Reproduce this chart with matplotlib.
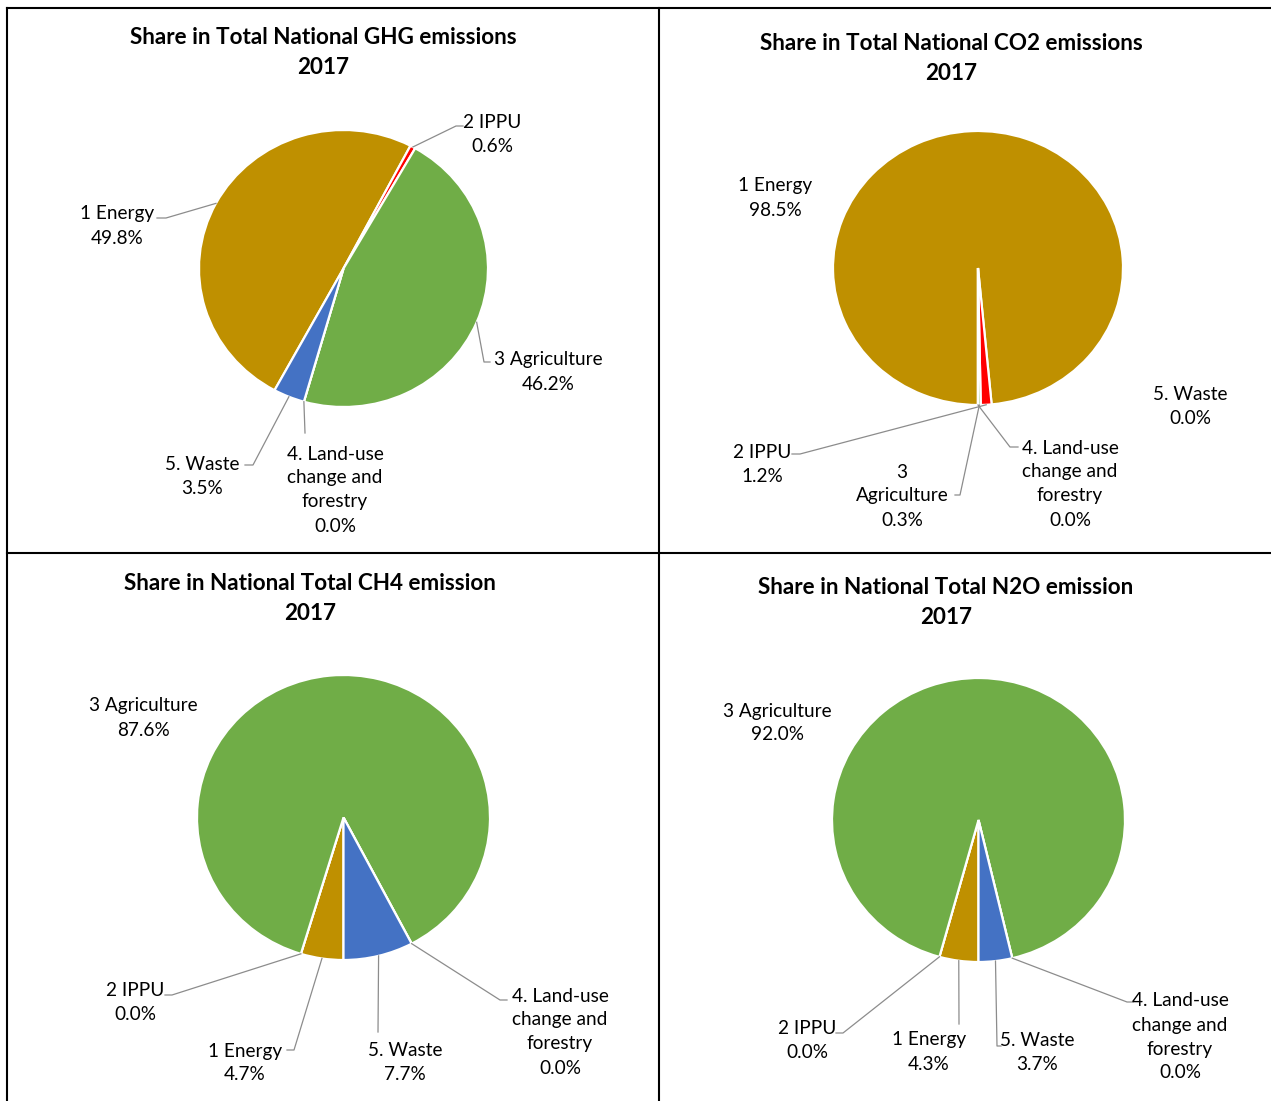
import matplotlib
matplotlib.use("Agg")
import matplotlib.pyplot as plt
import numpy as np

plt.rcParams['font.family'] = ['Lato', 'DejaVu Sans']

# ---------------- data ----------------
categories = ["1 Energy", "2 IPPU", "3 Agriculture",
              "4. Land-use change and forestry", "5. Waste"]
ghg_share = [49.8, 0.6, 46.2, 0.0, 3.5]
co2_share = [98.5, 1.2, 0.3, 0.0, 0.0]
ch4_share = [4.7, 0.0, 87.6, 0.0, 7.7]
n2o_share = [4.3, 0.0, 92.0, 0.0, 3.7]
titles = ["Share in Total National GHG emissions",
          "Share in Total National CO2 emissions",
          "Share in National Total CH4 emission",
          "Share in National Total N2O emission"]
year = "2017"

colors = ["#BF9000", "#FF0000", "#70AD47", "#A5A5A5", "#4472C4"]

W, H = 1271, 1101
fig = plt.figure(figsize=(W / 100, H / 100), dpi=100)
fig.patch.set_facecolor("white")

ov = fig.add_axes([0, 0, 1, 1])
ov.set_xlim(0, W)
ov.set_ylim(H, 0)
ov.axis("off")
ov.set_zorder(5)
ov.patch.set_alpha(0)

# panel borders
bc = "black"
blw = 1.5
ov.plot([7, W], [8, 8], color=bc, lw=blw, clip_on=False)
ov.plot([7, W], [553, 553], color=bc, lw=blw, clip_on=False)
ov.plot([7, 7], [8, H], color=bc, lw=blw, clip_on=False)
ov.plot([659, 659], [8, H], color=bc, lw=blw, clip_on=False)

LBL_FS = 13.7
TTL_FS = 16.2
LINE_SP = 24
LEADER_C = "#8C8C8C"


def draw_panel(shares, title, title_xy, geom, start_cw, labels):
    cx, cy, rx, ry = geom
    ax = fig.add_axes([(cx - rx) / W, (H - (cy + ry)) / H, 2 * rx / W, 2 * ry / H])
    wedges, _ = ax.pie(shares, colors=colors, startangle=90 - start_cw,
                       counterclock=False, radius=1.0,
                       wedgeprops=dict(edgecolor="white", linewidth=1.6))
    for w in wedges:
        w.set_clip_on(False)
    ax.set_aspect("auto")
    ax.set_xlim(-1, 1)
    ax.set_ylim(-1, 1)
    ax.axis("off")

    # title
    tx, ty = title_xy
    ov.text(tx, ty, title, ha="center", va="center", fontsize=TTL_FS,
            fontweight="bold", color="black")
    ov.text(tx, ty + 30, year, ha="center", va="center", fontsize=TTL_FS,
            fontweight="bold", color="black")

    vals = np.array(shares, dtype=float)
    frac = vals / vals.sum()
    before = np.concatenate([[0], np.cumsum(frac)[:-1]])
    mids = start_cw + 360 * (before + frac / 2)

    for (idx, lx, ly, name, end, elbow) in labels:
        lines = name.split("\n") + ["%.1f%%" % shares[idx]]
        for k, s in enumerate(lines):
            ov.text(lx, ly + k * LINE_SP, s, ha="center", va="center",
                    fontsize=LBL_FS, color="black")
        if end is not None:
            a = np.deg2rad(mids[idx])
            sx = cx + rx * np.sin(a)
            sy = cy - ry * np.cos(a)
            ov.plot([sx, elbow[0], end[0]], [sy, elbow[1], end[1]],
                    color=LEADER_C, lw=0.9, clip_on=False)


# GHG
draw_panel(ghg_share, titles[0], (323, 38), (343.5, 268.5, 144.5, 138.5), 208.5, [
    (0, 117, 214, "1 Energy", (157, 218), (166, 218)),
    (1, 492, 122, "2 IPPU", (463, 126), (456, 126)),
    (2, 548, 360, "3 Agriculture", (490, 362), (484, 362)),
    (3, 335, 454, "4. Land-use\nchange and\nforestry", (305, 433), (305, 433)),
    (4, 202, 464, "5. Waste", (245, 465), (253, 465)),
])

# CO2
draw_panel(co2_share, titles[1], (951, 43), (978, 268, 145, 137), 180, [
    (0, 775, 186, "1 Energy", None, None),
    (1, 762, 452, "2 IPPU", (792, 454), (800, 454)),
    (2, 902, 472, "3\nAgriculture", (955, 495), (960, 495)),
    (3, 1070, 448, "4. Land-use\nchange and\nforestry", (1018, 447), (1010, 447)),
    (4, 1190, 395, "5. Waste", None, None),
])

# CH4
draw_panel(ch4_share, titles[2], (310, 584), (343.5, 817.5, 146.5, 142.5), 180, [
    (0, 245, 1051, "1 Energy", (287, 1050), (294, 1050)),
    (1, 135, 991, "2 IPPU", (165, 995), (172, 995)),
    (2, 143, 706, "3 Agriculture", None, None),
    (3, 560, 996, "4. Land-use\nchange and\nforestry", (507, 1000), (500, 1000)),
    (4, 405, 1050, "5. Waste", (378, 1032), (378, 1032)),
])

# N2O
draw_panel(n2o_share, titles[3], (946, 588), (978.5, 820, 146.5, 142), 180, [
    (0, 929, 1040, "1 Energy", (959, 1024), (959, 1024)),
    (1, 807, 1029, "2 IPPU", (836, 1033), (843, 1033)),
    (2, 777, 711, "3 Agriculture", None, None),
    (3, 1180, 1001, "4. Land-use\nchange and\nforestry", (1133, 1002), (1127, 1002)),
    (4, 1037, 1040, "5. Waste", (1001, 1046), (997, 1046)),
])

fig.savefig("out.png", dpi=100, facecolor="white")
